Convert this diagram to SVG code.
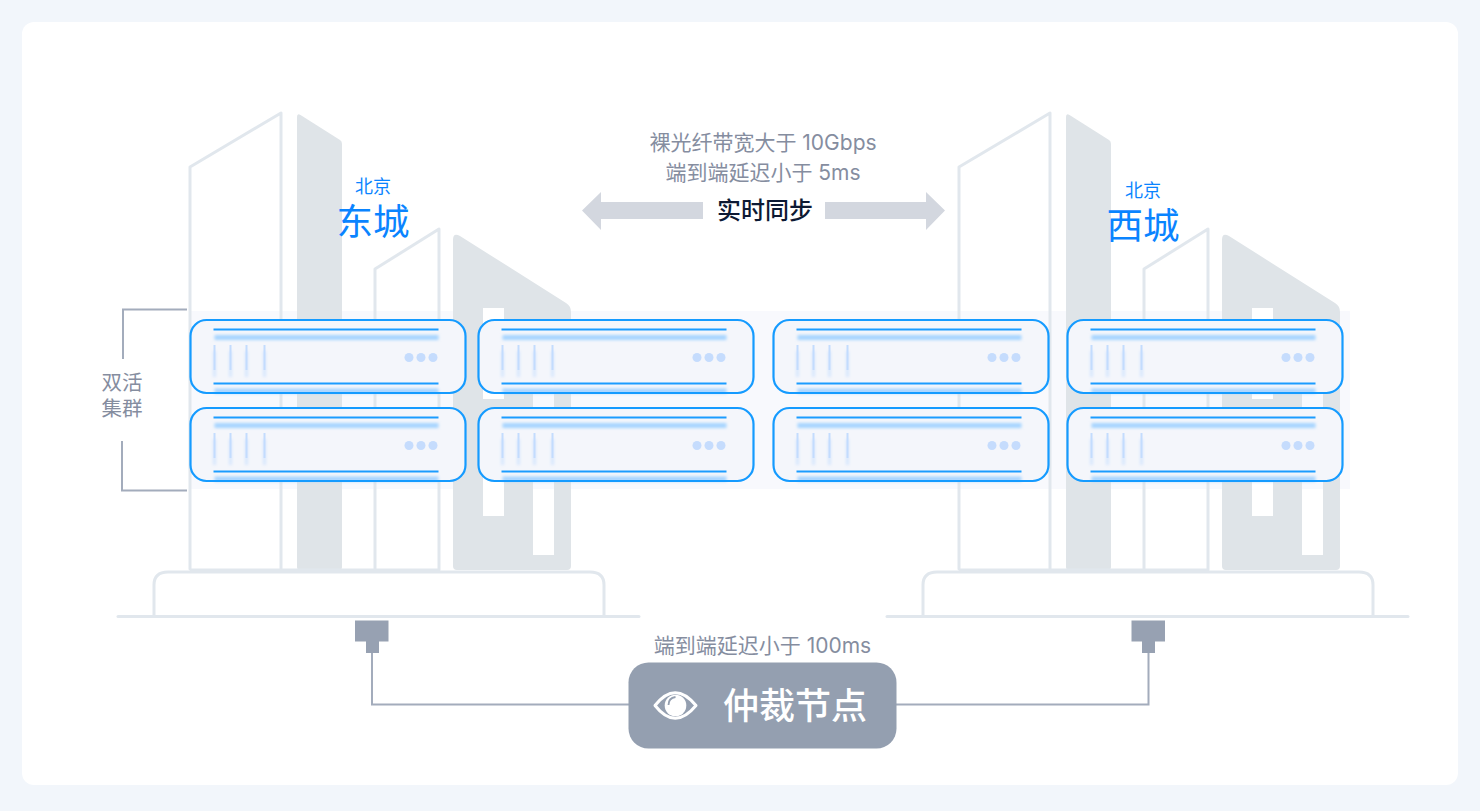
<svg xmlns="http://www.w3.org/2000/svg" xmlns:xlink="http://www.w3.org/1999/xlink" width="1480" height="811" viewBox="0 0 1480 811">
<style>
text{font-family:"Inter","Noto Sans CJK SC","Noto Sans",sans-serif;text-anchor:middle}
.g{fill:#858d9f;font-size:21px}
.b{fill:#0a84ff}
.o{fill:none;stroke:#e1e7ed;stroke-width:3;stroke-linejoin:round;stroke-linecap:round}
.s{fill:#dfe4e8}
.c{fill:none;stroke:#a3acbc;stroke-width:2}
.pl{stroke:#1b9cff;stroke-width:2}
.bl{stroke:#a6d4ff;stroke-width:5}
.t{stroke:#c3dcfe;stroke-width:2}
.tb{stroke:#d5e6fd;stroke-width:3}
</style>
<defs>
<filter id="blur" x="-10%" y="-300%" width="120%" height="700%"><feGaussianBlur stdDeviation="1.500"/></filter>
<filter id="blurV" x="-300%" y="-20%" width="700%" height="140%"><feGaussianBlur stdDeviation="1.500"/></filter>
<g id="card">
<rect x="1" y="1" width="275" height="73" rx="16" fill="#f4f6fb"/>
<path class="bl" d="M25 18.500H249M25 72H249" filter="url(#blur)"/>
<path class="tb" d="M25 32V58M41 32V58M57 32V58M75 32V58" filter="url(#blurV)"/>
<path class="t" d="M25 26V51M41 26V51M57 26V51M75 26V51"/>
<path class="pl" d="M24 10.500H249M24 64.500H249"/>
<rect x="1" y="1" width="275" height="73" rx="16" fill="none" stroke="#159bff" stroke-width="2.200"/>
<circle cx="219.500" cy="38.500" r="4.500" fill="#c5dcfd"/><circle cx="231.500" cy="38.500" r="4.500" fill="#c5dcfd"/><circle cx="243.500" cy="38.500" r="4.500" fill="#c5dcfd"/>
</g>
<g id="city">
<path class="o" d="M190 569V167L281 113V570"/>
<path class="s" d="M297 117Q297 113 300.500 115L340 140Q342 141 342 144V567Q342 570 339 570H300Q297 570 297 567Z"/>
<path class="o" d="M375 570V269L439 229V570"/>
<path class="s" fill-rule="evenodd" d="M453 240Q453 232 460 236L566 303Q571 306 571 312V566Q571 570 567 570H457Q453 570 453 566ZM533 393V555H554V393Z"/>
<rect x="483" y="308" width="21" height="91" fill="#fff"/>
<rect x="483" y="470" width="21" height="46" fill="#fff"/>
<path class="o" d="M154 616V585Q154 572 168 572H590Q604 572 604 585V616"/>
<path class="o" d="M118 616.500H639"/>
<path d="M190 570H439" stroke="#e1e7ed" stroke-width="3" fill="none"/>
</g>
</defs>
<rect width="1480" height="811" fill="#f2f6fb"/>
<rect x="22" y="22" width="1436" height="763" rx="12" fill="#fff"/>
<rect x="189" y="311" width="1161" height="178" fill="#f8f9fd"/>
<g id="city-east"><use href="#city"/></g>
<g id="city-west"><use href="#city" x="769"/></g>
<g id="label-east"><text x="373" y="192.500" font-size="18" class="b">北京</text><text x="373" y="235" font-size="36.500" class="b">东城</text></g>
<g id="label-west"><text x="1143" y="196.500" font-size="18" class="b">北京</text><text x="1143" y="239" font-size="36.500" class="b">西城</text></g>
<g id="sync">
<text x="763" y="150" class="g">裸光纤带宽大于 10Gbps</text>
<text x="763" y="180" class="g">端到端延迟小于 5ms</text>
<path fill="#d3d7df" d="M582 210.500L601 192V202H703V219H601V230ZM945 210.500L926 192V202H825V219H926V230Z"/>
<text x="765" y="219" font-size="24" font-weight="500" fill="#0d1933">实时同步</text>
</g>
<g id="cluster-label">
<path class="c" d="M187 309.500H123V359M122 441V490.500H187"/>
<text x="122" y="390" class="g" style="font-size:20.500px">双活</text><text x="122" y="416" class="g" style="font-size:20.500px">集群</text>
</g>
<g id="server-e1"><use href="#card" x="189.500" y="319"/></g>
<g id="server-e2"><use href="#card" x="189.500" y="407"/></g>
<g id="server-e3"><use href="#card" x="477.500" y="319"/></g>
<g id="server-e4"><use href="#card" x="477.500" y="407"/></g>
<g id="server-w1"><use href="#card" x="772.500" y="319"/></g>
<g id="server-w2"><use href="#card" x="772.500" y="407"/></g>
<g id="server-w3"><use href="#card" x="1066.500" y="319"/></g>
<g id="server-w4"><use href="#card" x="1066.500" y="407"/></g>
<g id="connectors">
<path class="c" d="M372 653V704.500H629M1148.500 653V704.500H896"/>
</g>
<g id="port-left"><path fill="#97a1b2" d="M355 620.500H388.500V641.500H379V653H366V641.500H355Z"/></g>
<g id="port-right"><path fill="#97a1b2" d="M1131.500 620.500H1165V641.500H1155V653H1142V641.500H1131.500Z"/></g>
<g id="arbiter">
<text x="762.500" y="653" class="g">端到端延迟小于 100ms</text>
<rect x="628.500" y="662.500" width="268" height="86" rx="20" fill="#949fb0"/>
<path d="M655 705.500Q675 680 696 705.500Q675 731 655 705.500Z" fill="none" stroke="#fff" stroke-width="3" stroke-linejoin="round"/>
<circle cx="675.500" cy="705.500" r="10.800" fill="#fff"/>
<path d="M668.500 705Q668.500 698 675.500 697" fill="none" stroke="#949fb0" stroke-width="1.800"/>
<text x="795" y="719" font-size="36" font-weight="500" fill="#fff">仲裁节点</text>
</g>
</svg>
